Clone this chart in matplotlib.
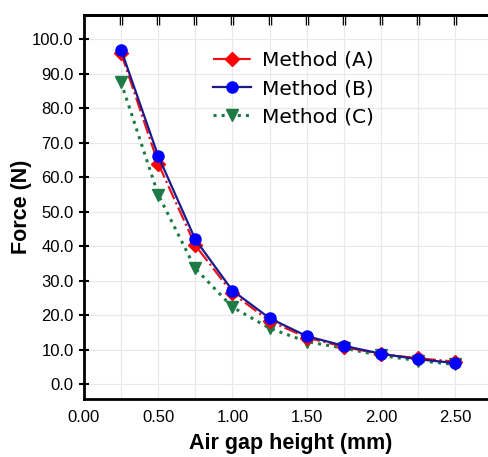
import numpy as np
import matplotlib
matplotlib.use('Agg')
import matplotlib.pyplot as plt

gap = [0.25, 0.50, 0.75, 1.00, 1.25, 1.50, 1.75, 2.00, 2.25, 2.50]
force_a = [96.0, 64.0, 40.3, 26.4, 18.4, 13.6, 10.9, 8.8, 7.6, 6.6]
force_b = [97.0, 66.2, 42.0, 27.2, 19.2, 14.0, 11.2, 8.9, 7.3, 6.2]
force_c = [87.5, 55.0, 33.6, 22.4, 16.3, 12.4, 10.5, 8.4, 6.9, 5.8]
labels = ['Method (A)', 'Method (B)', 'Method (C)']

plt.rcParams['font.family'] = ['Liberation Sans', 'DejaVu Sans']

fig = plt.figure(figsize=(4.88, 4.57), dpi=100)
ax = fig.add_axes([0.172, 0.127, 0.846, 0.840])

ax.plot(gap, force_a, color='#e8141c', ls='-.', lw=1.6, marker='D', ms=7,
        mfc='red', mec='red', label=labels[0], zorder=3)
ax.plot(gap, force_b, color='#1a1a8c', ls='-', lw=1.6, marker='o', ms=8,
        mfc='#0000ff', mec='#0000ff', label=labels[1], zorder=4)
ax.plot(gap, force_c, color='#1e7b45', ls=':', lw=2.2, marker='v', ms=9,
        mfc='#1e7b45', mec='#1e7b45', label=labels[2], zorder=2)

ax.set_xlim(0, 2.78)
ax.set_ylim(-4.2, 107)
ax.set_xticks(np.arange(0, 2.51, 0.5))
ax.set_xticklabels(['%.2f' % v for v in np.arange(0, 2.51, 0.5)], fontsize=12)
ax.set_yticks(np.arange(0, 101, 10))
ax.set_yticklabels(['%.1f' % v for v in np.arange(0, 101, 10)], fontsize=12)
ax.set_xticks(np.arange(0, 2.76, 0.25), minor=True)

ax.grid(True, which='both', axis='x', color='#e8e8e8', lw=0.8)
ax.grid(True, which='major', axis='y', color='#e8e8e8', lw=0.8)
ax.set_axisbelow(True)

ax.tick_params(axis='x', which='both', length=0, pad=8)
ax.tick_params(axis='y', which='both', direction='inout', length=7, width=1.5, pad=4)
# inward ticks on the top edge
sec = ax.secondary_xaxis('top')
sec.set_xticks(np.arange(0.25, 2.76, 0.25))
sec.tick_params(direction='in', length=7, width=2.5, labeltop=False)

for s in ['left', 'bottom', 'top']:
    ax.spines[s].set_linewidth(2)
ax.spines['right'].set_visible(False)
sec.spines['top'].set_linewidth(2)

ax.set_xlabel('Air gap height (mm)', fontsize=15.5, fontweight='bold', labelpad=6)
ax.set_ylabel('Force (N)', fontsize=15.5, fontweight='bold')
ax.yaxis.set_label_coords(-0.125, 0.5)

leg = ax.legend(loc='upper left', bbox_to_anchor=(213 / 488, 1 - 51 / 457),
                bbox_transform=fig.transFigure, frameon=False,
                prop={'family': 'DejaVu Sans', 'size': 14.5}, handlelength=1.9,
                handletextpad=0.55, labelspacing=0.45, borderpad=0, borderaxespad=0)

fig.savefig('out.png', dpi=100)
